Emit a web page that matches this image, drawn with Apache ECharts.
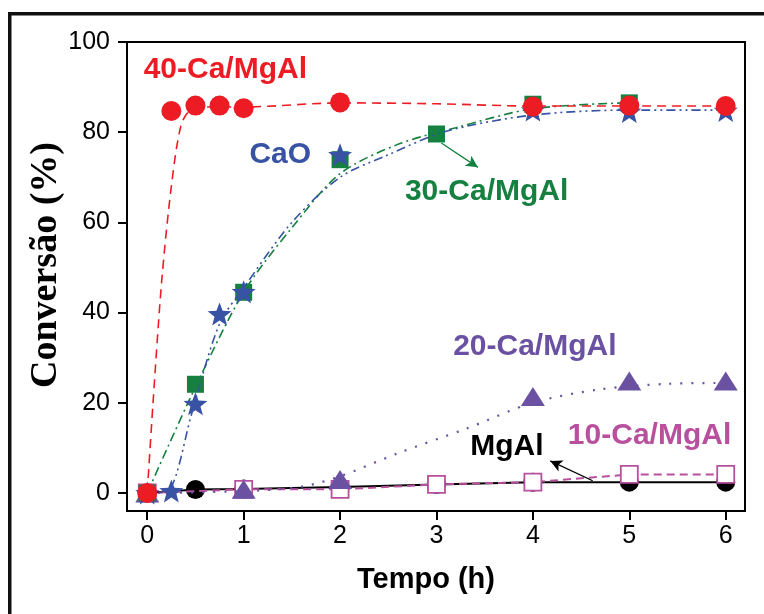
<!DOCTYPE html>
<html>
<head>
<meta charset="utf-8">
<script src="https://cdn.jsdelivr.net/npm/echarts@6/dist/echarts.min.js"></script>
<style>
html,body{margin:0;padding:0;background:#fff}
#c{width:764px;height:614px}
</style>
</head>
<body>
<div id="c"></div>
<script>
// Axis ticks
const xTicks = [0, 1, 2, 3, 4, 5, 6];
const yTicks = [0, 20, 40, 60, 80, 100];

// Sample names
const names = ['MgAl', '10-Ca/MgAl', '20-Ca/MgAl', '30-Ca/MgAl', 'CaO', '40-Ca/MgAl'];

// Measured conversion (%) vs time (h)
const mgal = [[0, 0], [0.5, 0.75], [1, 0.9], [2, 1.3], [3, 1.9], [4, 2.4], [5, 2.4], [6, 2.4]];
const ca10 = [[0, 0], [1, 0.8], [2, 0.8], [3, 1.9], [4, 2.4], [5, 4.1], [6, 4.1]];
const ca20 = [[0, 0], [1, 0.8], [2, 3.0], [4, 21.4], [5, 24.8], [6, 24.8]];
const ca30 = [[0, 0], [0.5, 24.1], [1, 44.5], [2, 73.9], [3, 79.6], [4, 86.2], [5, 86.5]];
const cao  = [[0, 0], [0.25, 0.45], [0.5, 19.8], [0.75, 39.7], [1, 44.6], [2, 75.0], [4, 84.9], [5, 84.6], [6, 84.8]];
const ca40 = [[0, 0], [0.25, 84.7], [0.5, 85.9], [0.75, 85.9], [1, 85.3], [2, 86.6], [4, 85.7], [5, 85.9], [6, 85.8]];

// Fitted kinetic curves
const fit20  = [[0, 0], [1, 0.4], [1.6, 1.4], [2, 3.7], [2.6, 8.8], [3.3, 14.2], [4, 20], [4.7, 23], [5.4, 24.2], [6.05, 24.4]];
const fit30  = [[0, 0], [0.5, 23.5], [1, 44.5], [1.5, 58.8], [2, 70.8], [2.6, 77.3], [3.2, 81], [4, 85.2], [4.95, 86.5]];
const fitCaO = [[0, 0], [0.2, 0.3], [0.3, 4], [0.46, 17.5], [0.75, 37.5], [1, 45.5], [1.5, 60], [2, 70],
                [2.5, 75], [3.1, 80.2], [4, 83.8], [5, 84.9], [6.05, 84.9]];
const fit40  = [[0, 0], [0.06, 20], [0.15, 47], [0.25, 68], [0.35, 81.5], [0.45, 85], [0.6, 85.6], [1, 85.6], [2, 86.5],
                [3, 86.3], [4, 85.8], [6.05, 85.8]];

// Sample label anchors (data units)
const labelAt = [[3.73, 10.2], [5.21, 12.8], [4.02, 32.4], [3.52, 66.8], [1.38, 74.9], [0.81, 93.8]];
// Pointer arrows: [from, to]
const arrowMgAl = [[4.62, 2.7], [4.18, 7.1]];
const arrow30 = [[3.05, 77.6], [3.43, 72.2]];

const colors = ['#000000', '#B8509E', '#6A51A2', '#15803F', '#3953A4', '#ED1C24'];
const SANS = '"Liberation Sans", Arial, Helvetica, sans-serif';

function starPath() {
  const p = [];
  for (let i = 0; i < 10; i++) {
    const r = i % 2 ? 0.42 : 1;
    const a = -Math.PI / 2 + i * Math.PI / 5;
    p.push((50 + 50 * r * Math.cos(a)).toFixed(2) + ' ' + (50 + 50 * r * Math.sin(a)).toFixed(2));
  }
  return 'path://M' + p.join(' L') + ' Z';
}

function nameTag(i) {
  return {
    symbol: 'rect', symbolSize: 1, itemStyle: { color: 'transparent' },
    label: {
      show: true, position: 'inside', formatter: names[i],
      color: colors[i], fontSize: 30, fontWeight: 'bold', fontFamily: SANS
    },
    data: [{ coord: labelAt[i] }]
  };
}

function arrowLine(pts, color) {
  return {
    silent: true, symbol: ['none', 'arrow'], symbolSize: [9, 12],
    lineStyle: { color: color, type: 'solid', width: 1.3 },
    label: { show: false },
    data: [[{ coord: pts[0] }, { coord: pts[1] }]]
  };
}

function curve(data, color, type, width, z) {
  return {
    type: 'line', data: data, showSymbol: false, smooth: 0.3, z: z,
    lineStyle: { color: color, type: type, width: width }, silent: true
  };
}

function markers(i, data, symbol, size, z) {
  return {
    type: 'scatter', name: names[i], data: data, symbol: symbol, symbolSize: size, z: z,
    itemStyle: { color: colors[i], opacity: 1 }, markPoint: nameTag(i)
  };
}

const chart = echarts.init(document.getElementById('c'), null, { renderer: 'canvas' });

chart.setOption({
  animation: false,
  backgroundColor: '#fff',
  grid: { left: 127, right: 19, top: 42, bottom: 103, show: true, borderColor: '#000', borderWidth: 2 },
  xAxis: {
    type: 'value', min: -0.21, max: 6.2,
    axisLine: { show: true, onZero: false, lineStyle: { color: '#000', width: 2 } },
    axisTick: { show: true, length: 9, lineStyle: { color: '#000', width: 2 }, customValues: xTicks },
    axisLabel: { customValues: xTicks, color: '#000', fontSize: 25, fontFamily: SANS, margin: 13 },
    splitLine: { show: false }
  },
  yAxis: {
    type: 'value', min: -4, max: 100,
    axisLine: { show: true, onZero: false, lineStyle: { color: '#000', width: 2 } },
    axisTick: { show: true, length: 9, lineStyle: { color: '#000', width: 2 }, customValues: yTicks },
    axisLabel: { customValues: yTicks, color: '#000', fontSize: 25, fontFamily: SANS, margin: 17 },
    splitLine: { show: false }
  },
  graphic: [
    { type: 'rect', shape: { x: 8, y: 12, width: 756, height: 3.5 }, style: { fill: '#111' } },
    { type: 'rect', shape: { x: 8, y: 12, width: 3.5, height: 602 }, style: { fill: '#111' } },
    {
      type: 'text', x: 46, y: 265, rotation: Math.PI / 2,
      style: {
        text: 'Conversão (%)', font: 'bold 38px "Liberation Serif", "Times New Roman", serif',
        fill: '#000', textAlign: 'center', textVerticalAlign: 'middle', align: 'center', verticalAlign: 'middle'
      }
    },
    {
      type: 'text', x: 426, y: 580,
      style: {
        text: 'Tempo (h)', font: 'bold 29px ' + SANS,
        fill: '#000', textAlign: 'center', textVerticalAlign: 'middle', align: 'center', verticalAlign: 'middle'
      }
    }
  ],
  series: [
    // MgAl
    {
      type: 'line', name: names[0], data: mgal, symbol: 'circle', symbolSize: 19, showAllSymbol: true, z: 2,
      itemStyle: { color: colors[0], opacity: 1 }, lineStyle: { color: colors[0], width: 2 },
      markPoint: nameTag(0), markLine: arrowLine(arrowMgAl, colors[0])
    },
    // 10-Ca/MgAl
    {
      type: 'line', name: names[1], data: ca10, symbol: 'rect', symbolSize: 17, showAllSymbol: true, z: 3,
      itemStyle: { color: '#fff', borderColor: colors[1], borderWidth: 1.8, opacity: 1 },
      lineStyle: { color: colors[1], width: 2, type: [8, 5] },
      markPoint: nameTag(1)
    },
    // 20-Ca/MgAl
    curve(fit20, colors[2], [2, 9], 2.2, 4),
    markers(2, ca20, 'triangle', [24, 19], 5),
    // 30-Ca/MgAl
    Object.assign(curve(fit30, colors[3], [9, 4, 2, 4], 1.6, 6), { markLine: arrowLine(arrow30, colors[3]) }),
    markers(3, ca30, 'rect', 17, 7),
    // CaO
    curve(fitCaO, colors[4], [9, 4, 2, 4, 2, 4], 1.6, 8),
    markers(4, cao, starPath(), [24, 23], 9),
    // 40-Ca/MgAl
    curve(fit40, colors[5], [9, 6], 1.6, 10),
    markers(5, ca40, 'circle', 20, 11)
  ]
});
</script>
</body>
</html>
